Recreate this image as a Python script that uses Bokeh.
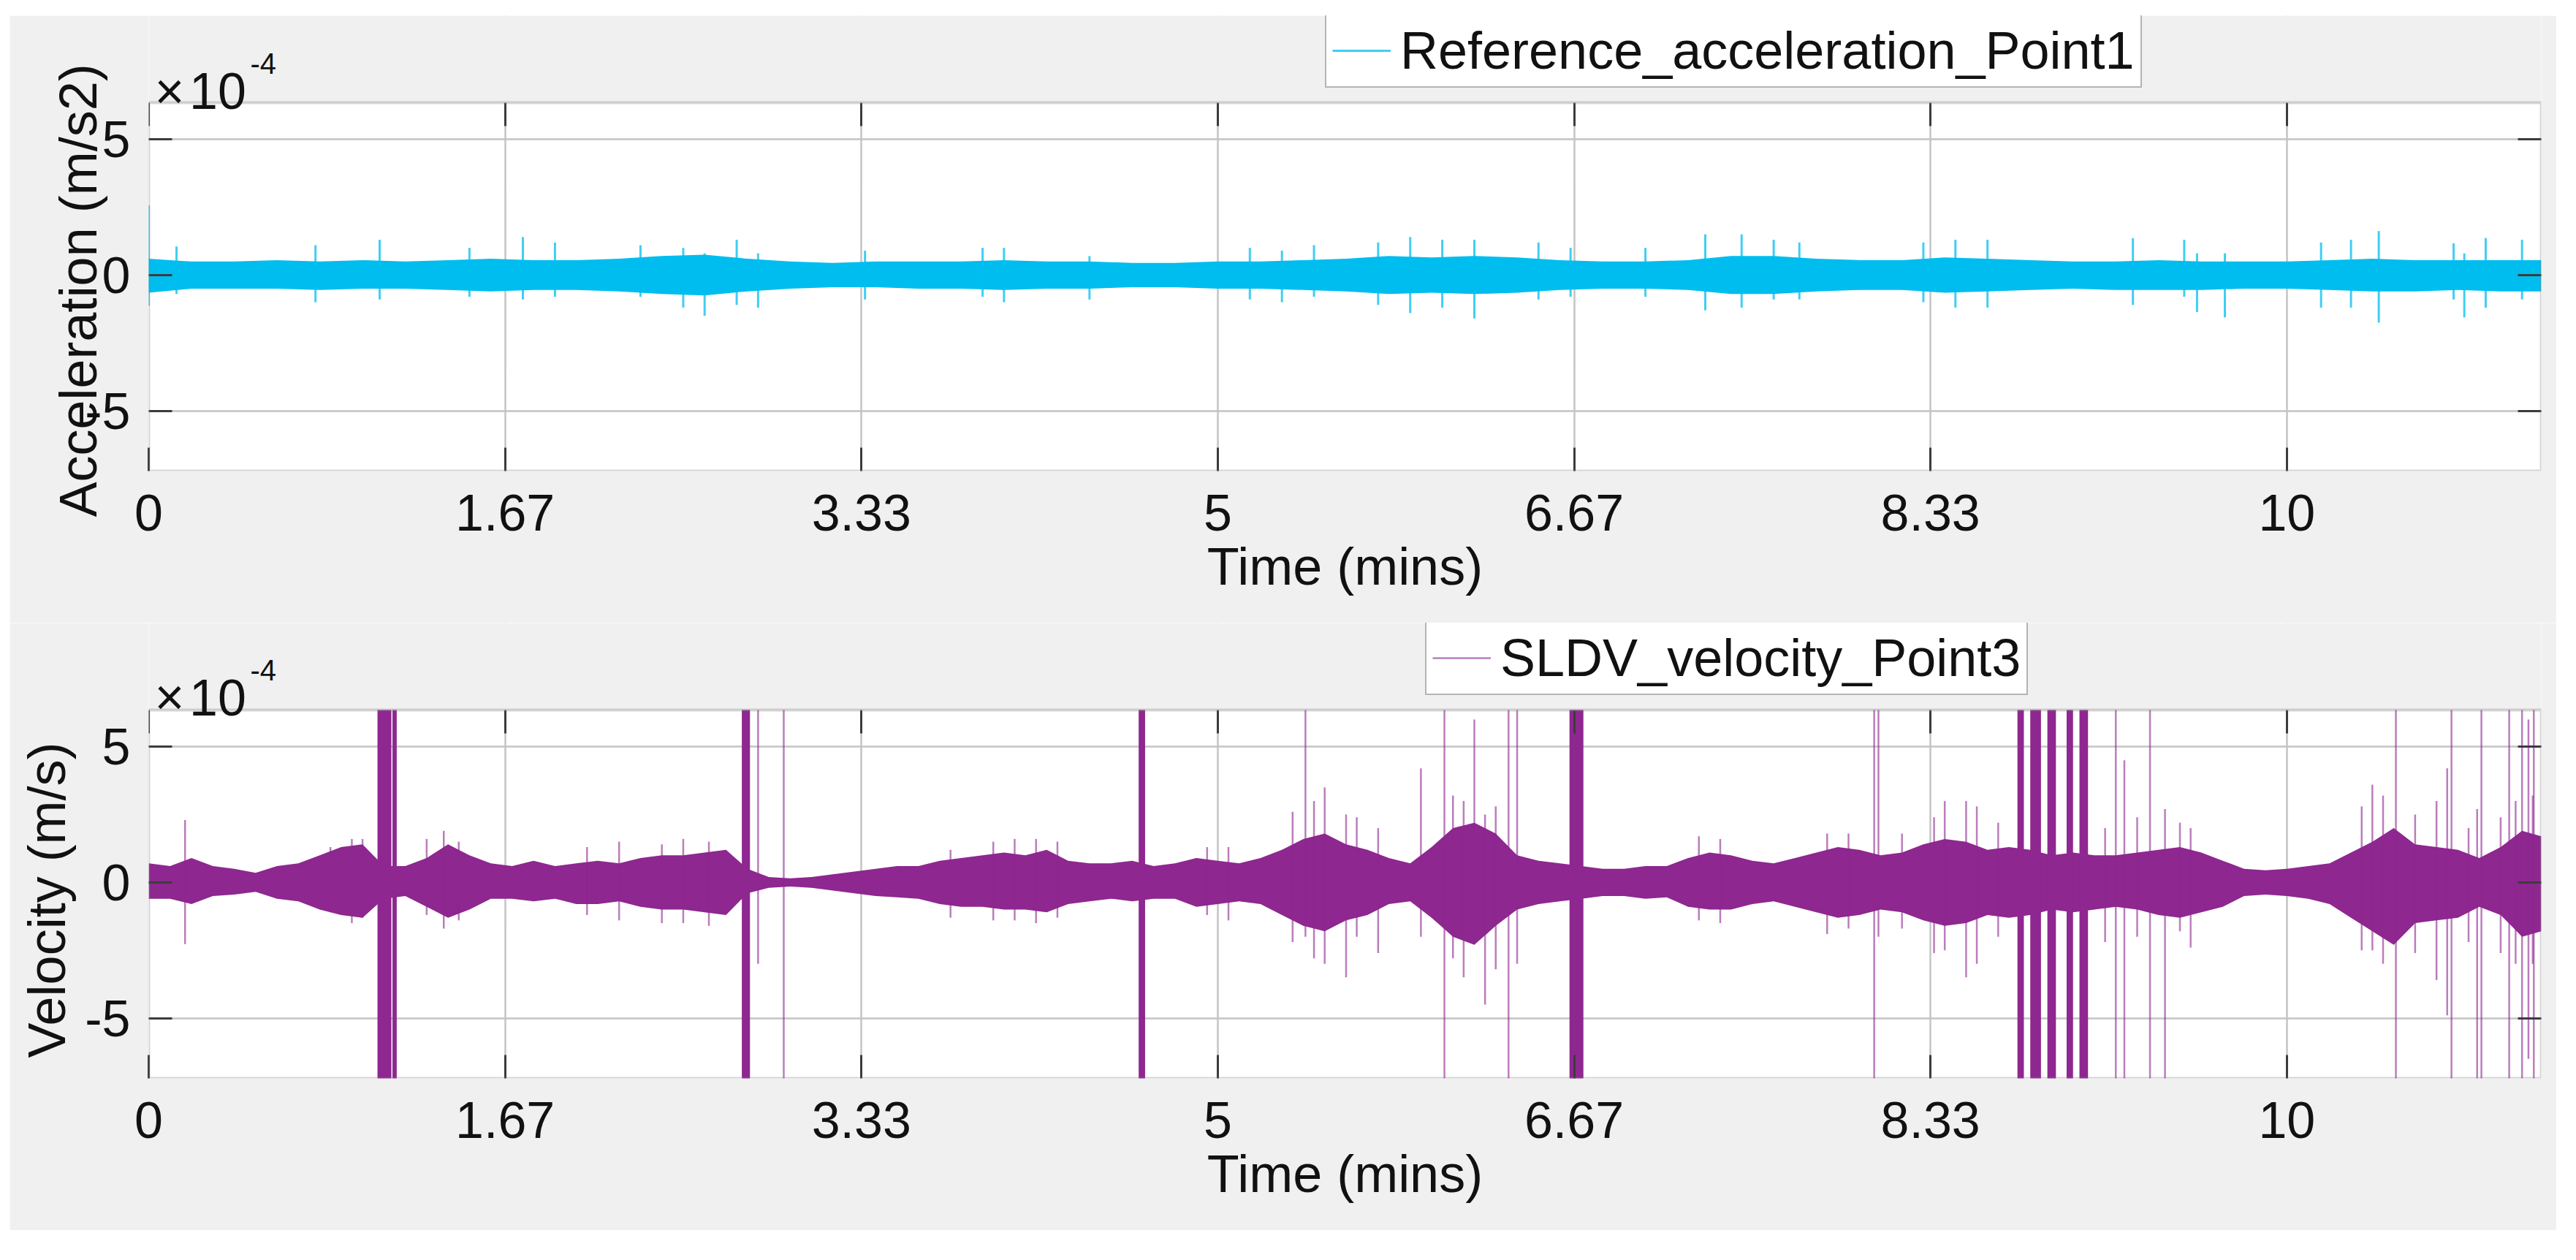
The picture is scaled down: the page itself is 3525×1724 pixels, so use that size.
from bokeh.plotting import figure
from bokeh.models import (FixedTicker, LinearAxis, Range1d, Legend, LegendItem,
                          Label, BoxAnnotation, Title)
from bokeh.layouts import column
from bokeh.embed import file_html
from bokeh.resources import INLINE

# ---------------- data (y values are in units of 1e-4) ----------------
X_TICKS = [0.0, 1.6667, 3.3333, 5.0, 6.6667, 8.3333, 10.0]
X_TICK_LABELS = ["0", "1.67", "3.33", "5", "6.67", "8.33", "10"]
Y_TICKS = [-5, 0, 5]
Y_TICK_LABELS = ["-5", "0", "5"]
X_MAX = 11.19
Y_MIN, Y_MAX = -7.22, 6.35

# Reference acceleration, Point 1: envelope of the dense signal
ACC_T = [0.0, 0.2, 0.4, 0.6, 0.8, 1.0, 1.2, 1.4, 1.6, 1.8, 2.0, 2.2, 2.4, 2.6, 2.8,
         3.0, 3.2, 3.4, 3.6, 3.8, 4.0, 4.2, 4.4, 4.6, 4.8, 5.0, 5.2, 5.4, 5.6, 5.8,
         6.0, 6.2, 6.4, 6.6, 6.8, 7.0, 7.2, 7.4, 7.6, 7.8, 8.0, 8.2, 8.4, 8.6, 8.8,
         9.0, 9.2, 9.4, 9.6, 9.8, 10.0, 10.2, 10.4, 10.6, 10.8, 11.0, 11.19]
ACC_HI = [0.60, 0.50, 0.50, 0.55, 0.50, 0.55, 0.50, 0.55, 0.60, 0.55, 0.55, 0.60, 0.70, 0.75, 0.60,
          0.50, 0.45, 0.50, 0.50, 0.50, 0.55, 0.50, 0.50, 0.45, 0.45, 0.50, 0.50, 0.55, 0.60, 0.70,
          0.65, 0.70, 0.65, 0.55, 0.50, 0.50, 0.55, 0.70, 0.70, 0.60, 0.55, 0.55, 0.65, 0.60, 0.55,
          0.50, 0.50, 0.55, 0.50, 0.50, 0.50, 0.55, 0.60, 0.55, 0.55, 0.55, 0.55]
ACC_LO = [-0.65, -0.50, -0.50, -0.50, -0.55, -0.50, -0.50, -0.55, -0.60, -0.55, -0.55, -0.60, -0.70, -0.75, -0.60,
          -0.50, -0.45, -0.45, -0.50, -0.50, -0.55, -0.50, -0.50, -0.45, -0.45, -0.50, -0.50, -0.55, -0.60, -0.70,
          -0.65, -0.70, -0.65, -0.55, -0.50, -0.50, -0.55, -0.70, -0.70, -0.60, -0.55, -0.55, -0.65, -0.60, -0.55,
          -0.50, -0.55, -0.55, -0.55, -0.50, -0.50, -0.55, -0.60, -0.60, -0.55, -0.60, -0.60]
# isolated peaks (time, max, min)
ACC_SPK_T = [0.0, 0.13, 0.78, 1.08, 1.50, 1.75, 1.90, 2.30, 2.50, 2.60, 2.75, 2.85, 3.35, 3.90, 4.00,
             4.40, 5.15, 5.30, 5.45, 5.75, 5.90, 6.05, 6.20, 6.50, 6.65, 7.00, 7.28, 7.45, 7.60,
             7.72, 8.30, 8.45, 8.60, 9.28, 9.52, 9.58, 9.71, 10.16, 10.30, 10.43,
             10.78, 10.83, 10.93, 11.10]
ACC_SPK_HI = [2.57, 1.05, 1.10, 1.30, 1.00, 1.40, 1.20, 1.10, 1.00, 0.80, 1.30, 0.80, 0.90, 1.00, 1.00,
              0.70, 1.00, 0.90, 1.10, 1.20, 1.40, 1.30, 1.30, 1.20, 1.00, 1.00, 1.50, 1.50, 1.30,
              1.20, 1.20, 1.30, 1.30, 1.36, 1.30, 0.80, 0.80, 1.20, 1.30, 1.62,
              1.17, 0.80, 1.36, 1.30]
ACC_SPK_LO = [-1.13, -0.70, -1.00, -0.90, -0.80, -0.90, -0.80, -0.80, -1.20, -1.50, -1.10, -1.20, -0.90, -0.80, -1.00,
              -0.90, -0.90, -1.00, -0.80, -1.10, -1.40, -1.20, -1.60, -0.90, -0.80, -0.80, -1.30, -1.20, -0.90,
              -0.90, -1.00, -1.20, -1.20, -1.10, -0.80, -1.36, -1.56, -1.20, -1.20, -1.75,
              -0.90, -1.56, -1.20, -0.90]

# SLDV velocity, Point 3: envelope of the dense signal
VEL_T = [0.0, 0.1, 0.2, 0.3, 0.4, 0.5, 0.6, 0.7, 0.8, 0.9, 1.0, 1.1, 1.2, 1.3, 1.4, 1.5, 1.6, 1.7, 1.8, 1.9,
         2.0, 2.1, 2.2, 2.3, 2.4, 2.5, 2.6, 2.7, 2.8, 2.9, 3.0, 3.1, 3.2, 3.3, 3.4, 3.5, 3.6, 3.7, 3.8, 3.9,
         4.0, 4.1, 4.2, 4.3, 4.4, 4.5, 4.6, 4.7, 4.8, 4.9, 5.0, 5.1, 5.2, 5.3, 5.4, 5.5, 5.6, 5.7, 5.8, 5.9,
         6.0, 6.1, 6.2, 6.3, 6.4, 6.5, 6.6, 6.7, 6.8, 6.9, 7.0, 7.1, 7.2, 7.3, 7.4, 7.5, 7.6, 7.7, 7.8, 7.9,
         8.0, 8.1, 8.2, 8.3, 8.4, 8.5, 8.6, 8.7, 8.8, 8.9, 9.0, 9.1, 9.2, 9.3, 9.4, 9.5, 9.6, 9.7, 9.8, 9.9,
         10.0, 10.1, 10.2, 10.3, 10.4, 10.5, 10.6, 10.7, 10.8, 10.9, 11.0, 11.1, 11.19]
VEL_HI = [0.70, 0.60, 0.90, 0.60, 0.50, 0.35, 0.60, 0.70, 1.00, 1.30, 1.40, 0.60, 0.60, 0.90, 1.40, 1.00, 0.70, 0.60, 0.80, 0.60,
          0.70, 0.80, 0.70, 0.90, 1.00, 1.00, 1.10, 1.20, 0.50, 0.20, 0.15, 0.20, 0.30, 0.40, 0.50, 0.60, 0.60, 0.80, 0.90, 1.00,
          1.10, 1.00, 1.20, 0.80, 0.70, 0.70, 0.80, 0.60, 0.70, 0.90, 0.80, 0.70, 0.90, 1.20, 1.60, 1.80, 1.40, 1.20, 0.90, 0.70,
          1.30, 2.00, 2.20, 1.80, 1.00, 0.80, 0.70, 0.60, 0.50, 0.50, 0.60, 0.60, 0.90, 1.10, 1.00, 0.80, 0.70, 0.90, 1.10, 1.30,
          1.20, 1.00, 1.10, 1.40, 1.60, 1.50, 1.20, 1.30, 1.20, 1.00, 1.10, 1.00, 1.00, 1.10, 1.20, 1.30, 1.10, 0.80, 0.50, 0.45,
          0.50, 0.60, 0.70, 1.10, 1.50, 2.00, 1.40, 1.30, 1.20, 0.90, 1.30, 1.90, 1.70]
VEL_LO = [-0.60, -0.60, -0.80, -0.50, -0.45, -0.35, -0.60, -0.70, -1.00, -1.20, -1.30, -0.60, -0.50, -0.90, -1.30, -1.00, -0.60, -0.60, -0.70, -0.60,
          -0.80, -0.80, -0.70, -0.90, -1.00, -1.00, -1.10, -1.20, -0.40, -0.20, -0.15, -0.20, -0.30, -0.40, -0.50, -0.55, -0.60, -0.80, -0.90, -0.90,
          -1.00, -1.00, -1.10, -0.80, -0.70, -0.60, -0.70, -0.60, -0.60, -0.90, -0.80, -0.70, -0.80, -1.20, -1.60, -1.80, -1.40, -1.20, -0.80, -0.70,
          -1.30, -2.00, -2.30, -1.60, -1.00, -0.80, -0.70, -0.60, -0.50, -0.50, -0.60, -0.55, -0.90, -1.00, -1.00, -0.80, -0.70, -0.90, -1.10, -1.30,
          -1.20, -1.00, -1.10, -1.40, -1.60, -1.50, -1.20, -1.30, -1.20, -1.00, -1.10, -1.00, -0.90, -1.00, -1.20, -1.30, -1.10, -0.90, -0.50, -0.45,
          -0.50, -0.60, -0.80, -1.30, -1.80, -2.30, -1.50, -1.40, -1.30, -0.90, -1.20, -2.00, -1.80]
# isolated peaks (time, max, min); +/-9 means the trace runs off the axes
VEL_SPK_T = [0.17, 0.85, 0.95, 1.00, 1.30, 1.38, 1.45, 2.05, 2.20, 2.40, 2.50, 2.62, 2.85, 2.97,
             3.75, 3.95, 4.05, 4.15, 4.25, 4.95, 5.05, 5.35, 5.41, 5.45, 5.50, 5.60, 5.65, 5.75,
             5.95, 6.06, 6.10, 6.15, 6.20, 6.25, 6.30, 6.36, 6.40, 7.25, 7.35, 7.85, 7.95, 8.07,
             8.09, 8.20, 8.35, 8.40, 8.50, 8.55, 8.65, 9.15, 9.20, 9.24, 9.30, 9.36, 9.43, 9.50,
             9.55, 10.35, 10.40, 10.45, 10.51, 10.60, 10.70, 10.75, 10.77, 10.85, 10.89, 10.91,
             11.00, 11.04, 11.07, 11.10, 11.13, 11.15, 11.155]
VEL_SPK_HI = [2.30, 1.30, 1.60, 1.60, 1.60, 1.90, 1.50, 1.30, 1.50, 1.40, 1.60, 1.50, 9.0, 9.0,
              1.20, 1.50, 1.60, 1.60, 1.50, 1.30, 1.30, 2.60, 9.0, 3.00, 3.50, 2.50, 2.40, 2.00,
              4.20, 9.0, 3.20, 3.00, 6.00, 2.50, 2.80, 9.0, 9.0, 1.70, 1.60, 1.80, 1.80, 9.0,
              9.0, 1.80, 2.40, 3.00, 3.00, 2.80, 2.20, 2.00, 9.0, 4.50, 2.40, 9.0, 2.70, 2.20,
              2.00, 2.80, 3.60, 3.20, 9.0, 2.50, 3.00, 4.20, 9.0, 2.00, 2.70, 9.0,
              2.40, 9.0, 3.00, 9.0, 6.00, 3.20, 9.0]
VEL_SPK_LO = [-2.27, -1.10, -1.50, -1.30, -1.20, -1.70, -1.40, -1.20, -1.40, -1.50, -1.50, -1.60, -3.0, -9.0,
              -1.30, -1.40, -1.40, -1.50, -1.30, -1.20, -1.40, -2.20, -2.0, -2.80, -3.00, -3.50, -2.00, -2.60,
              -2.00, -9.0, -2.80, -3.50, -1.00, -4.50, -3.20, -9.0, -3.0, -1.40, -1.50, -1.90, -1.70, -9.0,
              -2.0, -1.70, -2.60, -2.50, -3.50, -3.00, -2.00, -2.20, -9.0, -9.0, -2.00, -9.0, -9.0, -1.80,
              -2.40, -2.50, -2.50, -3.00, -9.0, -2.60, -3.60, -4.90, -9.0, -2.20, -9.0, -9.0,
              -2.60, -9.0, -3.00, -9.0, -6.50, -3.00, -9.0]
# dense bursts where the trace repeatedly runs off the axes (start, end)
VEL_BURST_T0 = [1.07, 1.14, 2.774, 4.63, 6.645, 8.74, 8.80, 8.88, 8.97, 9.03]
VEL_BURST_T1 = [1.135, 1.16, 2.812, 4.66, 6.71, 8.77, 8.85, 8.92, 9.00, 9.07]
VEL_BURST_HI = [9.0] * 10
VEL_BURST_LO = [-9.0] * 10

ACC_COLOR = "#00bdef"
VEL_COLOR = "#8e278f"
BG = "#f0f0f0"
FONT = "Liberation Sans"
TXT = "#111111"

# ---------------- layout (pixels) ----------------
FIG_W, FIG_H = 3485, 831
BORDER_L, BORDER_R, BORDER_B = 190, 21, 208
HEADER = 119                       # gray strip above each axes box (legend, exponent)
BOX_H = FIG_H - BORDER_B - HEADER  # height of the axes box
PPU = BOX_H / (Y_MAX - Y_MIN)      # pixels per y unit
Y_FRAME_TOP = Y_MAX + HEADER / PPU
TICK = 32


def make_figure(top_margin, ylabel, ylabel_offset, ylabel_standoff):
    p = figure(width=FIG_W, height=FIG_H,
               x_range=Range1d(0, X_MAX), y_range=Range1d(Y_MIN, Y_FRAME_TOP),
               output_backend="svg", toolbar_location=None,
               min_border_left=BORDER_L, min_border_right=BORDER_R,
               min_border_top=0, min_border_bottom=BORDER_B,
               background_fill_color="white", border_fill_color=BG,
               outline_line_color=None)
    p.title.visible = False
    p.margin = (top_margin, 0, 0, 13)
    xt = FixedTicker(ticks=X_TICKS)
    yt = FixedTicker(ticks=Y_TICKS)
    for ax, tk, labels in ((p.xaxis[0], xt, dict(zip(X_TICKS, X_TICK_LABELS))),
                           (p.yaxis[0], yt, dict(zip(Y_TICKS, Y_TICK_LABELS)))):
        ax.ticker = tk
        ax.major_label_overrides = labels
        ax.major_tick_in = TICK
        ax.major_tick_out = 0
        ax.minor_tick_in = 0
        ax.minor_tick_out = 0
        ax.axis_line_color = None
        ax.major_tick_line_color = "#3c3c3c"
        ax.major_tick_line_width = 3
        ax.major_label_text_font = FONT
        ax.major_label_text_font_size = "70px"
        ax.major_label_text_color = TXT
    p.xaxis[0].major_label_standoff = 32
    p.yaxis[0].major_label_standoff = 25
    xa = p.xaxis[0]
    xa.axis_label = "Time (mins)"
    xa.axis_label_text_font = FONT
    xa.axis_label_text_font_size = "72px"
    xa.axis_label_text_font_style = "normal"
    xa.axis_label_text_color = TXT
    xa.axis_label_standoff = 6
    # y label: placed along the box, starting below it like the original
    p.add_layout(Title(text=ylabel, align="left", vertical_align="top",
                       offset=ylabel_offset, standoff=ylabel_standoff,
                       text_font=FONT, text_font_size="72px",
                       text_font_style="normal", text_color=TXT), "left")
    # mirrored inner ticks on the right edge and along the top edge of the box
    rax = LinearAxis(ticker=FixedTicker(ticks=Y_TICKS),
                     major_label_overrides={t: "" for t in Y_TICKS},
                     major_label_text_font_size="0px", major_label_standoff=0,
                     major_tick_in=TICK, major_tick_out=0,
                     minor_tick_in=0, minor_tick_out=0, axis_line_color=None,
                     major_tick_line_color="#3c3c3c", major_tick_line_width=3)
    p.add_layout(rax, "right")
    tax = LinearAxis(ticker=FixedTicker(ticks=X_TICKS), fixed_location=Y_MAX,
                     major_label_overrides={t: "" for t in X_TICKS},
                     major_label_text_font_size="0px", major_label_standoff=0,
                     major_tick_in=0, major_tick_out=TICK,
                     minor_tick_in=0, minor_tick_out=0, axis_line_color=None,
                     major_tick_line_color="#3c3c3c", major_tick_line_width=3)
    p.add_layout(tax, "below")
    p.xgrid.ticker = xt
    p.ygrid.ticker = yt
    for g in (p.xgrid, p.ygrid):
        g.grid_line_color = "#c4c4c4"
        g.grid_line_width = 2.5
    return p


def finish(p, renderer, legend_text, legend_left, exp_base):
    # gray strip above the axes box, then the box outline
    p.add_layout(BoxAnnotation(bottom=Y_MAX, fill_color=BG, fill_alpha=1.0,
                               line_color=None))
    p.add_layout(BoxAnnotation(bottom=Y_MIN, top=Y_MAX, left=0, right=X_MAX,
                               fill_alpha=0.0, line_color="#767676", line_width=4))
    # exponent of the y axis: "x10^-4"
    for x, dy, text, size in ((0.027, 0.0, "\u00d7", "70px"),
                              (0.19, 0.0, "10", "70px"),
                              (0.475, 1.0, "-4", "40px")):
        p.add_layout(Label(x=x, y=exp_base + dy, text=text, text_font=FONT,
                           text_font_size=size, text_color=TXT,
                           text_align="left", text_baseline="alphabetic"))
    leg = Legend(items=[LegendItem(label=legend_text, renderers=[renderer])],
                 location=(legend_left, int(BOX_H + 20)), orientation="vertical",
                 label_text_font=FONT, label_text_font_size="72px",
                 label_text_color=TXT,
                 glyph_width=80, glyph_height=40, label_standoff=13,
                 padding=8, margin=0, spacing=0,
                 border_line_color="#6a6a6a", border_line_width=2,
                 background_fill_color="white", background_fill_alpha=1.0)
    p.add_layout(leg)


# ---------------- top: acceleration ----------------
p1 = make_figure(21, "Acceleration (m/s2)", -63, -70)
p1.varea(x=ACC_T, y1=ACC_LO, y2=ACC_HI, fill_color=ACC_COLOR)
acc_spk = p1.segment(x0=ACC_SPK_T, y0=ACC_SPK_LO, x1=ACC_SPK_T, y1=ACC_SPK_HI,
                     line_color=ACC_COLOR, line_width=3, line_alpha=0.75)
finish(p1, acc_spk, "Reference_acceleration_Point1", 1610, 6.78)

# ---------------- bottom: velocity ----------------
p2 = make_figure(0, "Velocity (m/s)", 28, 16)
p2.varea(x=VEL_T, y1=VEL_LO, y2=VEL_HI, fill_color=VEL_COLOR)
p2.quad(left=VEL_BURST_T0, right=VEL_BURST_T1, bottom=VEL_BURST_LO, top=VEL_BURST_HI,
        fill_color=VEL_COLOR, line_color=None)
vel_spk = p2.segment(x0=VEL_SPK_T, y0=VEL_SPK_LO, x1=VEL_SPK_T, y1=VEL_SPK_HI,
                     line_color=VEL_COLOR, line_width=2.5, line_alpha=0.6)
finish(p2, vel_spk, "SLDV_velocity_Point3", 1747, 6.81)

layout = column(p1, p2, spacing=0)
open("out.html", "w").write(file_html(layout, INLINE))
